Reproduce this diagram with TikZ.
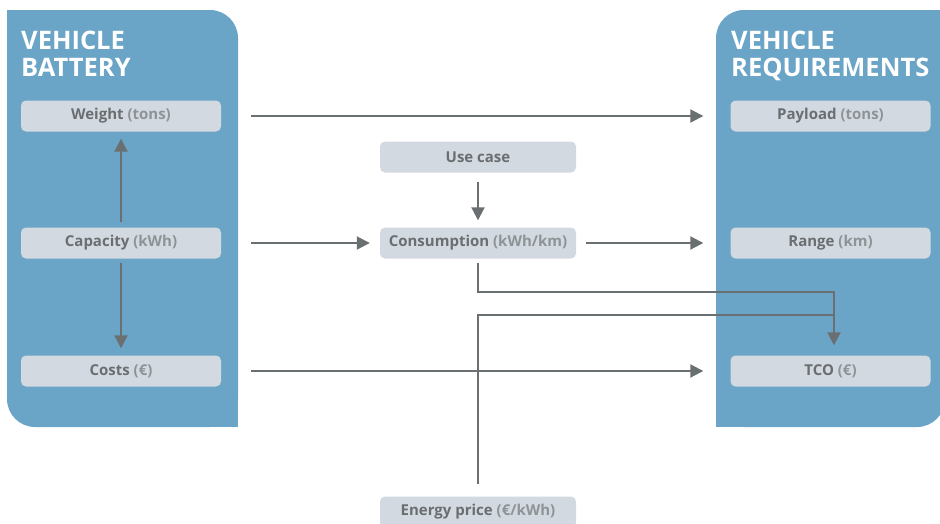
\documentclass[tikz,border=0pt]{standalone}
\usepackage{fontspec}
\setmainfont{Open Sans}
\usetikzlibrary{arrows.meta}
\definecolor{panelblue}{HTML}{6AA4C6}
\definecolor{boxgray}{HTML}{D3D9E1}
\definecolor{linegray}{HTML}{6A6F72}
\definecolor{textgray}{HTML}{6B6E70}
\definecolor{unitgray}{HTML}{8E9396}
\tikzset{
  panel/.style={fill=panelblue, draw=none},
  itembox/.style={fill=boxgray, draw=none, rounded corners=5pt, minimum width=200pt, minimum height=31pt, inner sep=0pt, text=textgray, font=\fontsize{15}{18}\selectfont\bfseries},
  title/.style={anchor=north west, align=left, inner sep=0pt, text=white, font=\fontsize{25.5}{27.7}\selectfont\bfseries},
  conn/.style={draw=linegray, line width=2pt},
  arr/.style={conn, -{Triangle[length=13pt,width=13pt]}},
}
\newcommand{\unit}[1]{\textcolor{unitgray}{#1}}
\begin{document}
\begin{tikzpicture}[x=1pt,y=-1pt]
\useasboundingbox (0,0) rectangle (940,523);
\clip (0,0) rectangle (940,523);
% left panel: rounded top-right and bottom-left
\fill[panel, rounded corners=28pt] (7,10) rectangle (238,427);
\fill[panel] (7,10) rectangle (100,100);
\fill[panel] (150,300) rectangle (238,427);
% right panel: rounded top-left and bottom-right
\fill[panel, rounded corners=28pt] (716,10) rectangle (945,427);
\fill[panel] (840,10) rectangle (945,100);
\fill[panel] (716,300) rectangle (800,427);

\node[title] (t1) at (21,30.5) {VEHICLE\\BATTERY};
\node[title] (t2) at (731,30.5) {VEHICLE\\REQUIREMENTS};

\node[itembox] (weight) at (121,116) {Weight \unit{(tons)}};
\node[itembox] (capacity) at (121,243) {Capacity \unit{(kWh)}};
\node[itembox] (costs) at (121,371) {Costs \unit{(€)}};

\node[itembox] (payload) at (830.5,116) {Payload \unit{(tons)}};
\node[itembox] (range) at (830.5,243) {Range \unit{(km)}};
\node[itembox] (tco) at (830.5,371) {TCO \unit{(€)}};

\node[itembox, minimum width=196pt] (usecase) at (478,157) {Use case};
\node[itembox, minimum width=196pt] (consumption) at (478,243) {Consumption \unit{(kWh/km)}};
\node[itembox, minimum width=196pt] (energy) at (478,512) {Energy price \unit{(€/kWh)}};

\coordinate (j1) at (834,292);
\coordinate (j2) at (834,314.5);

\draw[arr, shorten <=30pt, shorten >=27pt] (weight) -- (payload);
\draw[arr, shorten <=30pt, shorten >=10pt] (capacity) -- (consumption);
\draw[arr, shorten <=10pt, shorten >=27pt] (consumption) -- (range);
\draw[arr, shorten <=30pt, shorten >=27pt] (costs) -- (tco);
\draw[arr, shorten <=9pt, shorten >=7pt] (usecase) -- (consumption);
\draw[arr, shorten <=5pt, shorten >=7pt] (capacity) -- (weight);
\draw[arr, shorten <=4pt, shorten >=7pt] (capacity) -- (costs);
\draw[conn, shorten <=12pt] (energy.north) |- (j2);
\draw[arr, shorten <=4pt, shorten >=10pt] (consumption.south) |- (j1) -- (j1 |- tco.north);
\end{tikzpicture}
\end{document}
